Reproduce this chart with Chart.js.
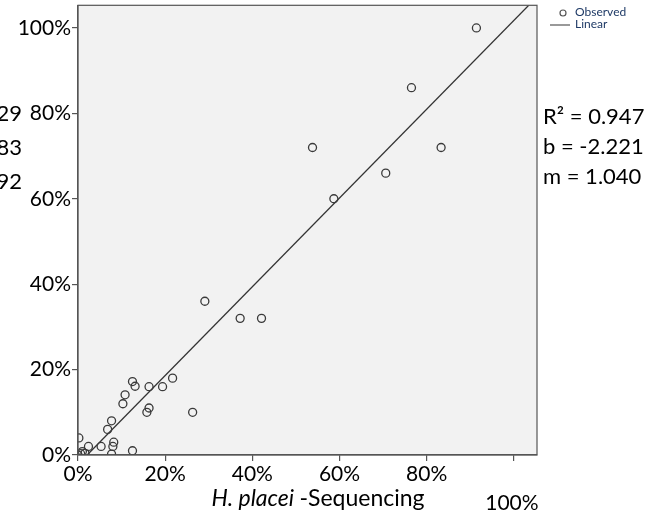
<!DOCTYPE html>
<html>
<head>
<meta charset="utf-8">
<script src="https://cdn.jsdelivr.net/npm/chart.js@4/dist/chart.umd.min.js"></script>
<style>
  html, body { margin: 0; padding: 0; background: #fff; }
  #wrap { width: 652px; height: 516px; }
</style>
</head>
<body>
<div id="wrap"><canvas id="chart" width="652" height="516"></canvas></div>
<script>
// Observed points (H. placei, sequencing vs. other method), in %
const obsX = [91.4, 76.5, 83.3, 53.8, 70.6, 58.7, 29.1, 37.2, 42.1, 21.7, 19.4, 16.3, 12.5, 13.1,
              10.8, 10.3, 16.3, 15.8, 26.3, 7.7, 6.8, 0.2, 2.4, 5.3, 8.2, 8.0, 7.7, 12.5, 0, 0.6, 1.0, 1.6];
const obsY = [100, 86, 72, 72, 66, 60, 36, 32, 32, 18, 16, 16, 17.2, 16.1,
              14.1, 12, 11, 10, 10, 8, 6, 4, 2, 2, 3, 2, 0.2, 1, 0, 0.3, 0.8, 0.4];

// Linear fit, end points
const fitX = [2.1, 103.4];
const fitY = [0, 105.3];

const tickValues = [0, 20, 40, 60, 80, 100];
const statLines = ['R\u00B2 = 0.947', 'b = -2.221', 'm = 1.040'];
const cutLines = ['29', '83', '92'];   // left-hand block, mostly off the picture
const legendLabels = ['Observed', 'Linear'];

const axisMax = 105.3;
const FONT = 'Lato, "Open Sans", sans-serif';

// fond gris + cadre + textes
const decor = {
    id: 'decor',
    beforeDraw(chart) {
        const { ctx, chartArea: a } = chart;
        ctx.save();
        ctx.fillStyle = '#f2f2f2';
        ctx.fillRect(a.left, a.top, a.right - a.left, a.bottom - a.top);
        ctx.restore();
    },
    afterDraw(chart) {
        const { ctx, chartArea: a, scales } = chart;
        ctx.save();
        ctx.strokeStyle = '#555';
        ctx.lineWidth = 1.2;
        ctx.strokeRect(a.left, a.top, a.right - a.left, a.bottom - a.top);

        // stats on the right
        ctx.fillStyle = '#000';
        ctx.font = '22px ' + FONT;
        ctx.textBaseline = 'middle';
        ctx.textAlign = 'left';
        statLines.forEach((t, i) => ctx.fillText(t, a.right + 6, 117 + i * 30));
        ctx.textAlign = 'right';
        cutLines.forEach((t, i) => ctx.fillText(t, 22, 114 + i * 34));

        // x title: italic part + normal part
        const title1 = 'H. placei ';
        const title2 = '-Sequencing';
        ctx.font = 'italic 23px ' + FONT;
        const w1 = ctx.measureText(title1).width;
        ctx.font = '23px ' + FONT;
        const w2 = ctx.measureText(title2).width;
        let tx = 318 - (w1 + w2) / 2;
        ctx.textAlign = 'left';
        ctx.font = 'italic 23px ' + FONT;
        ctx.fillText(title1, tx, 499);
        ctx.font = '23px ' + FONT;
        ctx.fillText(title2, tx + w1, 499);

        // the 100% label of the x axis sits low, beside the title
        ctx.font = '21px ' + FONT;
        ctx.textAlign = 'center';
        ctx.fillText('100%', scales.x.getPixelForValue(100) - 2, 503);

        // legend
        const lx = a.right + 26;
        ctx.strokeStyle = '#555';
        ctx.lineWidth = 1.2;
        ctx.beginPath();
        ctx.arc(lx, 13, 3, 0, Math.PI * 2);
        ctx.stroke();
        ctx.beginPath();
        ctx.moveTo(lx - 13, 25);
        ctx.lineTo(lx + 7, 25);
        ctx.stroke();
        ctx.fillStyle = '#1f3a66';
        ctx.font = '12px ' + FONT;
        ctx.textAlign = 'left';
        legendLabels.forEach((t, i) => ctx.fillText(t, lx + 12, 12 + i * 12));
        ctx.restore();
    }
};

const pts = obsX.map((x, i) => ({ x: x, y: obsY[i] }));
const fit = fitX.map((x, i) => ({ x: x, y: fitY[i] }));

new Chart(document.getElementById('chart').getContext('2d'), {
    type: 'scatter',
    data: {
        datasets: [
            {
                label: legendLabels[0],
                data: pts,
                pointRadius: 4,
                pointBorderWidth: 1.3,
                pointBackgroundColor: 'rgba(0,0,0,0)',
                pointBorderColor: '#3a3a3a'
            },
            {
                label: legendLabels[1],
                type: 'line',
                data: fit,
                showLine: true,
                pointRadius: 0,
                borderColor: '#333',
                borderWidth: 1.3,
                fill: false
            }
        ]
    },
    plugins: [decor],
    options: {
        responsive: false,
        animation: false,
        layout: { padding: { left: 0, top: 5, right: 115, bottom: 0 } },
        plugins: {
            legend: { display: false },
            tooltip: { enabled: false }
        },
        scales: {
            x: {
                type: 'linear',
                min: 0,
                max: axisMax,
                afterFit: (s) => { s.height = 61; s.paddingLeft = 0; s.paddingRight = 0; },
                afterBuildTicks: (s) => { s.ticks = tickValues.map(v => ({ value: v })); },
                border: { color: '#555', width: 1.2 },
                grid: { drawOnChartArea: false, color: '#555', tickLength: 6, lineWidth: 1.2 },
                ticks: {
                    includeBounds: false,
                    maxRotation: 0,
                    padding: 1,
                    color: '#000',
                    font: { family: FONT, size: 21 },
                    callback: (v) => v === 100 ? '' : v + '%'
                }
            },
            y: {
                type: 'linear',
                min: 0,
                max: axisMax,
                afterFit: (s) => { s.width = 78; s.paddingTop = 0; s.paddingBottom = 0; },
                afterBuildTicks: (s) => { s.ticks = tickValues.map(v => ({ value: v })); },
                border: { color: '#555', width: 1.2 },
                grid: { drawOnChartArea: false, color: '#555', tickLength: 6, lineWidth: 1.2 },
                ticks: {
                    includeBounds: false,
                    padding: 1,
                    color: '#000',
                    font: { family: FONT, size: 21 },
                    callback: (v) => v + '%'
                }
            }
        }
    }
});
</script>
</body>
</html>
